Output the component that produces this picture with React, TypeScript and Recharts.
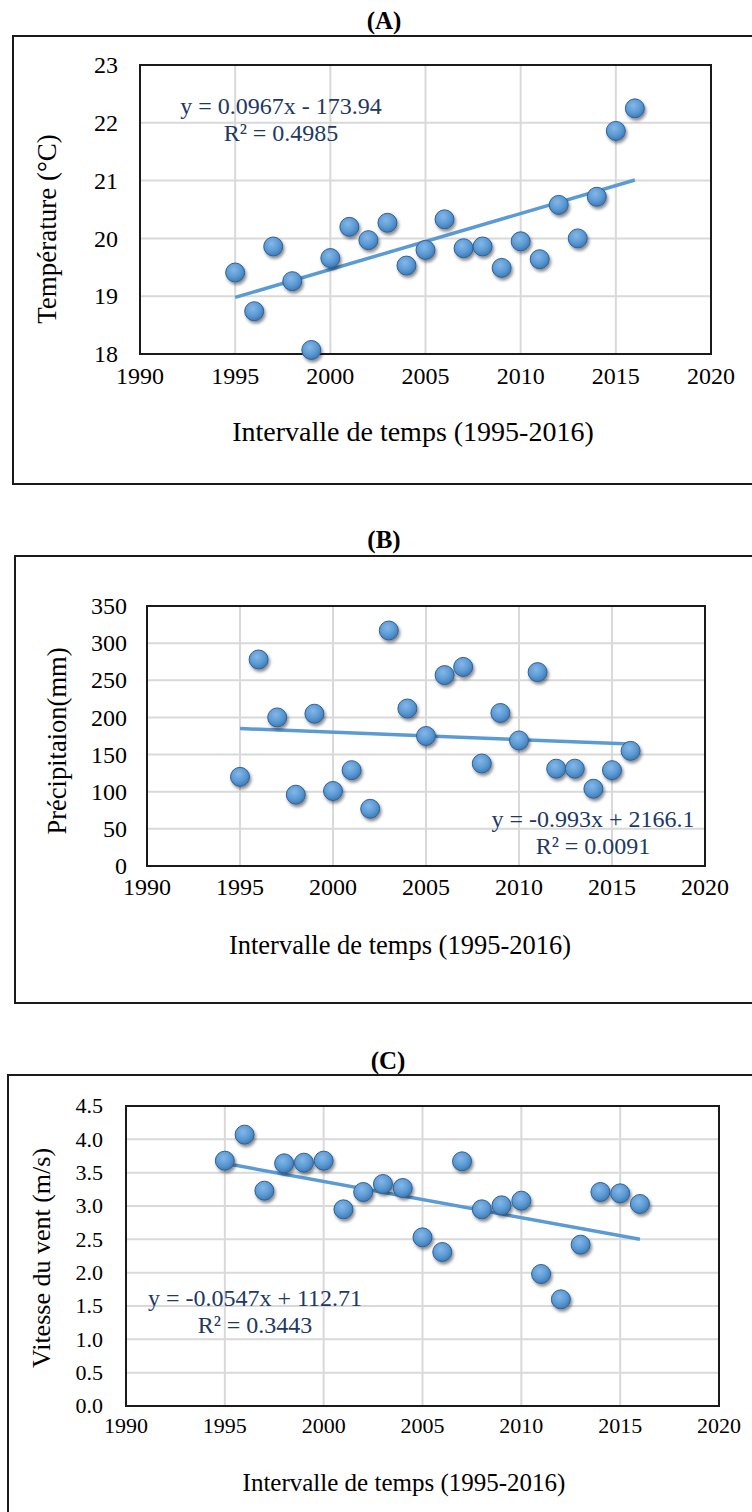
import {
  ScatterChart,
  Scatter,
  XAxis,
  YAxis,
  CartesianGrid,
  ReferenceArea,
} from "recharts";

// ================= DATA =================
const years = [
  1995, 1996, 1997, 1998, 1999, 2000, 2001, 2002, 2003, 2004, 2005,
  2006, 2007, 2008, 2009, 2010, 2011, 2012, 2013, 2014, 2015, 2016,
];

const temperature = [
  19.41, 18.74, 19.86, 19.26, 18.07, 19.66, 20.2, 19.97, 20.27, 19.53, 19.8,
  20.33, 19.83, 19.86, 19.49, 19.95, 19.64, 20.58, 20.0, 20.72, 21.86, 22.25,
];

const precipitation = [
  120, 278, 200, 96, 205, 101, 129, 77, 317, 212, 175,
  257, 268, 138, 206, 169, 261, 131, 131, 104, 129, 155,
];

const windSpeed = [
  3.68, 4.07, 3.23, 3.64, 3.65, 3.68, 2.95, 3.21, 3.33, 3.27, 2.53,
  2.31, 3.67, 2.95, 3.01, 3.08, 1.98, 1.6, 2.42, 3.21, 3.19, 3.03,
];

// trendline end points (Excel linear fit)
const trendYears = [1995, 2016];
const temperatureTrend = [18.98, 21.01];
const precipitationTrend = [185.1, 164.2];
const windTrend = [3.64, 2.5];

const yearTicks = [1990, 1995, 2000, 2005, 2010, 2015, 2020];
const temperatureTicks = [18, 19, 20, 21, 22, 23];
const precipitationTicks = [0, 50, 100, 150, 200, 250, 300, 350];
const windTicks = [0, 0.5, 1, 1.5, 2, 2.5, 3, 3.5, 4, 4.5];

const FONT = '"Liberation Serif", "Times New Roman", serif';
const BLUE = "#5B9BD5";
const NAVY = "#203864";
const MT = 24; // space above the plot inside each svg

const toPoints = (values: number[]) =>
  years.map((year, i) => ({ year, value: values[i] }));
const toTrend = (values: number[]) =>
  trendYears.map((year, i) => ({ year, value: values[i] }));

// ================= MARKER =================
// eslint-disable-next-line
function Dot(props: any) {
  const { cx, cy } = props;
  if (cx == null || cy == null) return <g />;
  return (
    <circle
      cx={cx}
      cy={cy}
      r={9.5}
      fill="url(#dotGrad)"
      stroke="#2E6099"
      strokeWidth={1}
      filter="url(#dotShadow)"
    />
  );
}

// ================= TICKS =================
function makeTick(size: number, axis: "x" | "y", fmt?: (v: number) => string) {
  // eslint-disable-next-line
  return ({ x, y, payload }: any) => (
    <text
      x={x}
      y={y}
      dy={axis === "x" ? size * 0.75 : size * 0.34}
      textAnchor={axis === "x" ? "middle" : "end"}
      fontSize={size}
      fontFamily={FONT}
      fill="#000"
    >
      {fmt ? fmt(payload.value) : payload.value}
    </text>
  );
}

interface PanelProps {
  values: number[];
  trend: number[];
  yTicks: number[];
  yDomain: [number, number];
  yFormat?: (v: number) => string;
  top: number; // plot top
  bottom: number; // plot bottom
  left: number; // plot left
  right: number; // plot right
  tickSize: number;
  yTickMargin: number;
  xTickMargin: number;
}

function Panel(p: PanelProps) {
  const height = MT + (p.bottom - p.top) + 60;
  return (
    <div style={{ position: "absolute", left: 0, top: p.top - MT }}>
      <ScatterChart
        width={752}
        height={height}
        margin={{ top: MT, right: 752 - p.right, bottom: 0, left: 0 }}
        style={{ fontFamily: FONT }}
      >
        <CartesianGrid stroke="#D9D9D9" strokeWidth={2} />
        <XAxis
          type="number"
          dataKey="year"
          domain={[1990, 2020]}
          ticks={yearTicks}
          interval={0}
          height={60}
          axisLine={false}
          tickLine={false}
          tickSize={0}
          tickMargin={p.xTickMargin}
          tick={makeTick(p.tickSize, "x")}
        />
        <YAxis
          type="number"
          dataKey="value"
          domain={p.yDomain}
          ticks={p.yTicks}
          interval={0}
          width={p.left}
          axisLine={false}
          tickLine={false}
          tickSize={0}
          tickMargin={p.yTickMargin}
          tick={makeTick(p.tickSize, "y", p.yFormat)}
        />
        <ReferenceArea
          x1={1990}
          x2={2020}
          y1={p.yDomain[0]}
          y2={p.yDomain[1]}
          fill="none"
          stroke="#1a1a1a"
          strokeWidth={2}
          strokeOpacity={1}
        />
        <Scatter
          data={toTrend(p.trend)}
          line={{ stroke: BLUE, strokeWidth: 3.5 }}
          shape={() => <g />}
          isAnimationActive={false}
        />
        <Scatter
          data={toPoints(p.values)}
          shape={Dot}
          isAnimationActive={false}
        />
      </ScatterChart>
    </div>
  );
}

const abs = (style: React.CSSProperties): React.CSSProperties => ({
  position: "absolute",
  whiteSpace: "nowrap",
  fontFamily: FONT,
  ...style,
});

function Equation({ cx, cy, lines }: { cx: number; cy: number; lines: string[] }) {
  return (
    <div
      style={abs({
        left: cx - 150,
        top: cy - 14,
        width: 300,
        textAlign: "center",
        fontSize: 24,
        lineHeight: "27px",
        color: NAVY,
      })}
    >
      {lines.map((l) => (
        <div key={l}>{l}</div>
      ))}
    </div>
  );
}

function Title({ x, y, text }: { x: number; y: number; text: string }) {
  return (
    <div
      style={abs({
        left: x,
        top: y,
        transform: "translate(-50%, -50%)",
        fontSize: 25,
        fontWeight: "bold",
      })}
    >
      {text}
    </div>
  );
}

function XTitle({ x, y, size }: { x: number; y: number; size: number }) {
  return (
    <div
      style={abs({
        left: x,
        top: y,
        transform: "translate(-50%, -50%)",
        fontSize: size,
      })}
    >
      Intervalle de temps (1995-2016)
    </div>
  );
}

function YTitle({ x, y, size, text }: { x: number; y: number; size: number; text: string }) {
  return (
    <div
      style={abs({
        left: x,
        top: y,
        transform: "translate(-50%, -50%) rotate(-90deg)",
        fontSize: size,
      })}
    >
      {text}
    </div>
  );
}

function Frame({ left, top, height }: { left: number; top: number; height: number }) {
  return (
    <div
      style={{
        position: "absolute",
        left,
        top,
        width: 780,
        height,
        border: "2px solid #1a1a1a",
        boxSizing: "border-box",
      }}
    />
  );
}

export default function App() {
  return (
    <div
      style={{
        position: "absolute",
        left: 0,
        top: 0,
        width: 752,
        height: 1512,
        overflow: "hidden",
        background: "#fff",
        fontFamily: FONT,
        color: "#000",
      }}
    >
      <svg width={0} height={0} style={{ position: "absolute" }}>
        <defs>
          <radialGradient id="dotGrad" cx="42%" cy="35%" r="70%">
            <stop offset="0%" stopColor="#86B6E6" />
            <stop offset="55%" stopColor="#5B9BD5" />
            <stop offset="100%" stopColor="#3C74AC" />
          </radialGradient>
          <filter id="dotShadow" x="-50%" y="-50%" width="200%" height="200%">
            <feDropShadow dx="1.5" dy="2.5" stdDeviation="1.5" floodColor="#000" floodOpacity="0.45" />
          </filter>
        </defs>
      </svg>

      {/* ================= (A) ================= */}
      <Title x={384} y={21} text="(A)" />
      <Frame left={12} top={35} height={450} />
      <Panel
        values={temperature}
        trend={temperatureTrend}
        yTicks={temperatureTicks}
        yDomain={[18, 23]}
        top={65}
        bottom={354}
        left={140}
        right={711}
        tickSize={24}
        yTickMargin={22}
        xTickMargin={12}
      />
      <Equation cx={281} cy={107} lines={["y = 0.0967x - 173.94", "R² = 0.4985"]} />
      <XTitle x={413} y={432} size={28} />
      <YTitle x={47} y={229} size={27} text="Température (°C)" />

      {/* ================= (B) ================= */}
      <Title x={384} y={540} text="(B)" />
      <Frame left={14} top={555} height={449} />
      <Panel
        values={precipitation}
        trend={precipitationTrend}
        yTicks={precipitationTicks}
        yDomain={[0, 350]}
        top={606}
        bottom={866}
        left={147}
        right={705}
        tickSize={24}
        yTickMargin={20}
        xTickMargin={11}
      />
      <Equation cx={593} cy={820} lines={["y = -0.993x + 2166.1", "R² = 0.0091"]} />
      <XTitle x={400} y={945} size={26.5} />
      <YTitle x={57} y={741} size={26.5} text="Précipitaion(mm)" />

      {/* ================= (C) ================= */}
      <Title x={388} y={1061} text="(C)" />
      <Frame left={7} top={1074} height={480} />
      <Panel
        values={windSpeed}
        trend={windTrend}
        yTicks={windTicks}
        yDomain={[0, 4.5]}
        yFormat={(v) => v.toFixed(1)}
        top={1106}
        bottom={1406}
        left={126}
        right={719}
        tickSize={22}
        yTickMargin={23}
        xTickMargin={10}
      />
      <Equation cx={255} cy={1299} lines={["y = -0.0547x + 112.71", "R² = 0.3443"]} />
      <XTitle x={404} y={1483} size={25} />
      <YTitle x={42} y={1258} size={26} text="Vitesse du vent (m/s)" />
    </div>
  );
}
